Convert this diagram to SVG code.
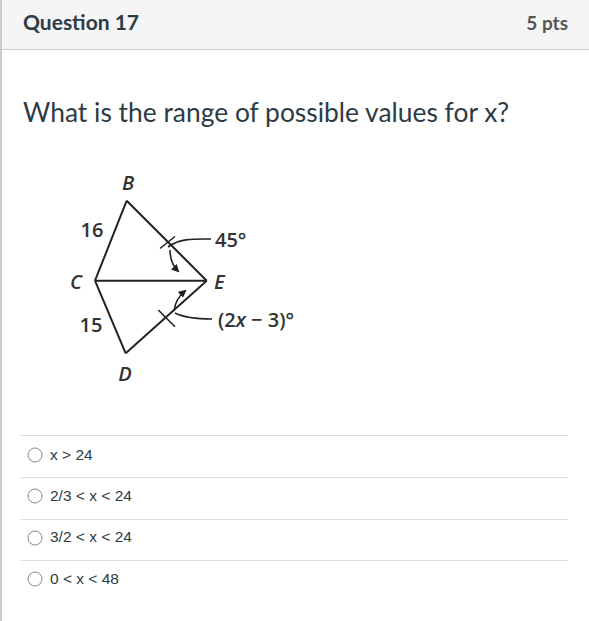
<svg xmlns="http://www.w3.org/2000/svg" width="589" height="621" viewBox="0 0 589 621">
<style>
.hdr{font-family:Lato,"Open Sans",sans-serif;font-weight:bold;font-size:21px;fill:#2d3b45}
.pts{font-family:Lato,"Open Sans",sans-serif;font-weight:bold;font-size:19px;fill:#555}
.q{font-family:Lato,"Open Sans",sans-serif;font-size:26.4px;fill:#2d3b45}
.ans{font-family:"Liberation Sans",Arial,sans-serif;font-size:15.5px;fill:#2d3b45}
.sep{stroke:#dcdcdc;stroke-width:1}
.radio{fill:#fff;stroke:#888;stroke-width:1}
.lbl{font-family:"Open Sans","Liberation Sans",sans-serif;font-weight:600;font-size:20px;fill:#333}
.it{font-style:italic}
.edge{stroke:#222;stroke-width:2;fill:none}
.thin{stroke:#222;stroke-width:1.6;fill:none}
</style>
<defs>
<marker id="ah" markerWidth="8" markerHeight="8" refX="6" refY="4" orient="auto" markerUnits="userSpaceOnUse">
<path d="M0,0 L8,4 L0,8 Z" fill="#222"/>
</marker>
</defs>
<rect x="0" y="0" width="589" height="621" fill="#fff"/>
<rect x="0" y="0" width="589" height="49" fill="#f5f5f5"/>
<line x1="0" y1="49.5" x2="589" y2="49.5" stroke="#c7cdd1" stroke-width="1"/>
<line x1="1" y1="0" x2="1" y2="621" stroke="#c7cdd1" stroke-width="2"/>
<text class="hdr" x="23" y="30">Question 17</text>
<text class="pts" x="568" y="30" text-anchor="end">5 pts</text>
<text class="q" x="23" y="122">What is the range of possible values for x?</text>

<g id="figure">
<g id="connectors">
<line class="edge" x1="126.7" y1="200.7" x2="95" y2="280.7"/>
<line class="edge" x1="126.7" y1="200.7" x2="206.7" y2="280.7"/>
<line class="edge" x1="95" y1="280.7" x2="206.7" y2="280.7"/>
<line class="edge" x1="95" y1="280.7" x2="125.7" y2="353.3"/>
<line class="edge" x1="125.7" y1="353.3" x2="206.7" y2="280.7"/>
<line class="thin" x1="160" y1="248.5" x2="175" y2="236.5"/>
<line class="thin" x1="158.3" y1="310" x2="175" y2="326.7"/>
<path class="thin" d="M168,247 C180,238 195,239 211,239"/>
<path class="thin" d="M170,250 C170,260 173,266 178,271" marker-end="url(#ah)"/>
<path class="thin" d="M175,313 C185,318 198,319 212,319"/>
<path class="thin" d="M174,311 C175,302 179,296 185,291" marker-end="url(#ah)"/>
</g>
<g id="B"><text class="lbl it" x="128" y="190" text-anchor="middle">B</text></g>
<g id="C"><text class="lbl it" x="76" y="289" text-anchor="middle">C</text></g>
<g id="D"><text class="lbl it" x="125" y="381" text-anchor="middle">D</text></g>
<g id="E"><text class="lbl it" x="214" y="289">E</text></g>
<g id="side16"><text class="lbl" x="92" y="237" text-anchor="middle">16</text></g>
<g id="side15"><text class="lbl" x="91" y="332" text-anchor="middle">15</text></g>
<g id="ang45"><text class="lbl" x="215" y="247">45°</text></g>
<g id="angx"><text class="lbl" x="218" y="327">(2<tspan class="it">x</tspan> − 3)°</text></g>
</g>

<g id="answers">
<line class="sep" x1="21" y1="435.5" x2="568" y2="435.5"/>
<line class="sep" x1="21" y1="477.5" x2="568" y2="477.5"/>
<line class="sep" x1="21" y1="519.5" x2="568" y2="519.5"/>
<line class="sep" x1="21" y1="560.5" x2="568" y2="560.5"/>
<g id="opt1"><circle class="radio" cx="35" cy="455" r="7"/><text class="ans" x="50" y="460">x &gt; 24</text></g>
<g id="opt2"><circle class="radio" cx="35" cy="496" r="7"/><text class="ans" x="50" y="501">2/3 &lt; x &lt; 24</text></g>
<g id="opt3"><circle class="radio" cx="35" cy="538" r="7"/><text class="ans" x="50" y="542">3/2 &lt; x &lt; 24</text></g>
<g id="opt4"><circle class="radio" cx="35" cy="579" r="7"/><text class="ans" x="50" y="584">0 &lt; x &lt; 48</text></g>
</g>
</svg>
